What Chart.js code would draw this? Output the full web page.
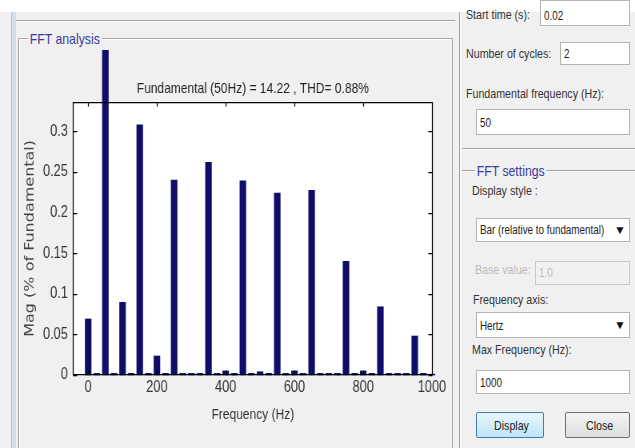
<!DOCTYPE html>
<html>
<head>
<meta charset="utf-8">
<script src="https://cdn.jsdelivr.net/npm/chart.js@4.4.1/dist/chart.umd.min.js"></script>
<style>
  body { margin: 0; width: 635px; height: 448px; overflow: hidden; background: #fff;
         font-family: 'Liberation Sans', Arial, sans-serif; font-size: 13px; color: #333; }
  .abs { position: absolute; }
  .t { position: absolute; white-space: nowrap; transform: scaleX(0.82); transform-origin: 0 0; line-height: 15px; }
  .bg { left: 0; top: 12px; width: 635px; height: 436px; background: #f0f0f0; }
  .strip { left: 11px; top: 12px; width: 4px; height: 436px; background: #d3deec; border-left: 1px solid #b8c8dc; }
  .hl { height: 0; border-top: 1px solid #a0a0a0; border-bottom: 1px solid #fff; }
  .vl { width: 0; border-left: 1px solid #a0a0a0; border-right: 1px solid #fff; }
  .frame { left: 18px; top: 38px; width: 433px; height: 420px; border: 1px solid #a8a8a8; box-shadow: inset 1px 1px 0 #fff; }
  .legend { background: #f0f0f0; color: #3b3b9e; font-size: 15px; padding: 0 2px; line-height: 17px; }
  .box { background: #fff; border: 1px solid #b4b4b4; box-sizing: border-box; }
  .box .t { left: 3px; font-size: 12px; color: #222; }
  .arrow { position: absolute; right: 3px; font-size: 12px; color: #111; line-height: 14px; }
  .btn { box-sizing: border-box; border-radius: 2px; }
  .btn .t { font-size: 13px; color: #222; top: 5px; }
  #chartWrap { left: 16px; top: 50px; width: 545px; height: 380px; transform: scaleX(0.8); transform-origin: 0 0; }
</style>
</head>
<body>
<div class="abs bg"></div>
<div class="abs strip"></div>
<div class="abs hl" style="left:16px; top:20px; width:439px;"></div>
<div class="abs frame"></div>
<div class="t legend" style="left:28px; top:30px;">FFT analysis</div>

<div class="abs vl" style="left:459px; top:12px; height:436px;"></div>
<div class="t" style="left:466px; top:7px;">Start time (s):</div>
<div class="abs box" style="left:540px; top:0; width:90px; height:26px;"><span class="t" style="top:8px;">0.02</span></div>
<div class="t" style="left:466px; top:46px;">Number of cycles:</div>
<div class="abs box" style="left:560px; top:42px; width:70px; height:23px;"><span class="t" style="top:4px;">2</span></div>
<div class="t" style="left:466px; top:86px;">Fundamental frequency (Hz):</div>
<div class="abs box" style="left:476px; top:109px; width:154px; height:26px;"><span class="t" style="top:6px;">50</span></div>
<div class="abs hl" style="left:462px; top:148px; width:173px;"></div>
<div class="abs hl" style="left:462px; top:170px; width:173px;"></div>
<div class="t legend" style="left:475px; top:162px;">FFT settings</div>
<div class="t" style="left:472px; top:183px;">Display style :</div>
<div class="abs box" style="left:476px; top:218px; width:154px; height:24px;"><span class="t" style="top:4px;">Bar (relative to fundamental)</span><span class="arrow" style="top:4px;">&#9660;</span></div>
<div class="t" style="left:475px; top:262px; color:#bcbcbc;">Base value:</div>
<div class="abs box" style="left:535px; top:261px; width:95px; height:24px; background:#f0f0f0; border-color:#c8c8c8;"><span class="t" style="top:4px; color:#bcbcbc;">1.0</span></div>
<div class="t" style="left:473px; top:292px;">Frequency axis:</div>
<div class="abs box" style="left:476px; top:312px; width:154px; height:26px;"><span class="t" style="top:6px;">Hertz</span><span class="arrow" style="top:5px;">&#9660;</span></div>
<div class="t" style="left:472px; top:342px;">Max Frequency (Hz):</div>
<div class="abs box" style="left:476px; top:370px; width:154px; height:24px;"><span class="t" style="top:5px;">1000</span></div>
<div class="abs btn" style="left:476px; top:412px; width:68px; height:26px; border:1px solid #3c7fb1; background:linear-gradient(#eaf6fd,#bee4f8);"><span class="t" style="left:17px;">Display</span></div>
<div class="abs btn" style="left:565px; top:412px; width:65px; height:26px; border:1px solid #707070; background:linear-gradient(#f4f4f4,#dddddd);"><span class="t" style="left:20px;">Close</span></div>

<div class="abs" id="chartWrap"><canvas id="fft" width="545" height="380"></canvas></div>

<script>
// FFT bins, 25 Hz resolution (2 cycles of 50 Hz)
const freqHz = [0, 25, 50, 75, 100, 125, 150, 175, 200, 225, 250, 275, 300, 325, 350, 375, 400, 425, 450, 475,
                500, 525, 550, 575, 600, 625, 650, 675, 700, 725, 750, 775, 800, 825, 850, 875, 900, 925, 950, 975, 1000];
// magnitude, % of fundamental (the fundamental itself runs off the axes)
const magPct = [0.069, 0.002, 100, 0.002, 0.0895, 0.002, 0.308, 0.002, 0.0234, 0.002, 0.240, 0.002, 0.002, 0.002, 0.262, 0.002, 0.005, 0.002, 0.239, 0.002,
                0.004, 0.002, 0.224, 0.002, 0.005, 0.002, 0.2275, 0.002, 0.002, 0.002, 0.140, 0.002, 0.005, 0.002, 0.084, 0.002, 0.002, 0.002, 0.048, 0.002, 0.001];
const xTicks = [0, 200, 400, 600, 800, 1000];
const xTickLabels = ['0', '200', '400', '600', '800', '1000'];
const yTicks = [0, 0.05, 0.1, 0.15, 0.2, 0.25, 0.3];
const yTickLabels = ['0', '0.05', '0.1', '0.15', '0.2', '0.25', '0.3'];
const titleText = 'Fundamental (50Hz) = 14.22 , THD= 0.88%';

// the canvas is squeezed to 80% width by css, so horizontal sizes here are /0.8
const sans = "'Liberation Sans', Arial, sans-serif";

// white axes box, black frame and inward ticks on all four sides
const axesBox = {
    id: 'axesBox',
    beforeDraw(chart) {
        const {ctx, chartArea: a} = chart;
        ctx.save();
        ctx.fillStyle = '#fff';
        ctx.fillRect(a.left, a.top, a.width, a.height);
        ctx.restore();
    },
    afterDraw(chart) {
        const {ctx, chartArea: a, scales: {x, y}} = chart;
        const L = Math.round(a.left) + 0.5, R = Math.round(a.right) - 0.5;
        const T = Math.round(a.top) + 0.5, B = Math.round(a.bottom) - 0.5;
        ctx.save();
        ctx.strokeStyle = '#000';
        ctx.lineWidth = 1.25;
        ctx.beginPath();
        ctx.moveTo(L, T); ctx.lineTo(R, T); ctx.lineTo(R, B); ctx.lineTo(L, B); ctx.closePath();
        x.ticks.forEach(t => {
            const px = Math.round(x.getPixelForValue(t.value)) + 0.5;
            ctx.moveTo(px, B); ctx.lineTo(px, B - 4);
            ctx.moveTo(px, T); ctx.lineTo(px, T + 4);
        });
        y.ticks.forEach(t => {
            const py = Math.round(y.getPixelForValue(t.value)) + 0.5;
            ctx.moveTo(L, py); ctx.lineTo(L + 5, py);
            ctx.moveTo(R, py); ctx.lineTo(R - 5, py);
        });
        ctx.stroke();
        ctx.restore();
    }
};

new Chart(document.getElementById('fft'), {
    type: 'bar',
    data: {
        datasets: [{
            data: freqHz.map((f, i) => ({x: f, y: magPct[i]})),
            backgroundColor: '#0e0e6a',
            borderWidth: 0,
            barThickness: 7.5,
            clip: false
        }]
    },
    options: {
        responsive: false,
        animation: false,
        devicePixelRatio: 1,
        layout: {padding: {top: 0, right: 23.75, bottom: 0, left: 0}},
        plugins: {
            legend: {display: false},
            tooltip: {enabled: false},
            title: {
                display: true,
                text: titleText,
                fullSize: false,
                color: '#222',
                font: {family: sans, size: 15, weight: 'normal'},
                padding: {top: 30, bottom: 3.7}
            }
        },
        scales: {
            x: {
                type: 'linear',
                offset: false,
                min: -45,
                max: 1003,
                grid: {display: false, drawTicks: false},
                border: {display: false},
                afterBuildTicks: s => { s.ticks = xTicks.map(v => ({value: v})); },
                afterFit: s => { s.height = 55; },
                ticks: {color: '#333', font: {family: sans, size: 16}, padding: 3, maxRotation: 0,
                        callback: (v, i) => xTickLabels[i]},
                title: {display: true, text: 'Frequency (Hz)', color: '#333',
                        font: {family: sans, size: 15}, padding: {top: 0, bottom: 6}}
            },
            y: {
                min: 0,
                max: 0.3365,
                grid: {display: false, drawTicks: false},
                border: {display: false},
                afterBuildTicks: s => { s.ticks = yTicks.map(v => ({value: v})); },
                afterFit: s => { s.width = 70.9; },
                ticks: {color: '#333', font: {family: sans, size: 16}, padding: 6,
                        callback: (v, i) => yTickLabels[i]},
                title: {display: true, text: 'Mag (% of Fundamental)', color: '#444',
                        font: {family: "'DejaVu Sans', sans-serif", size: 16}, padding: {top: 8, bottom: 0}}
            }
        }
    },
    plugins: [axesBox]
});
</script>
</body>
</html>
